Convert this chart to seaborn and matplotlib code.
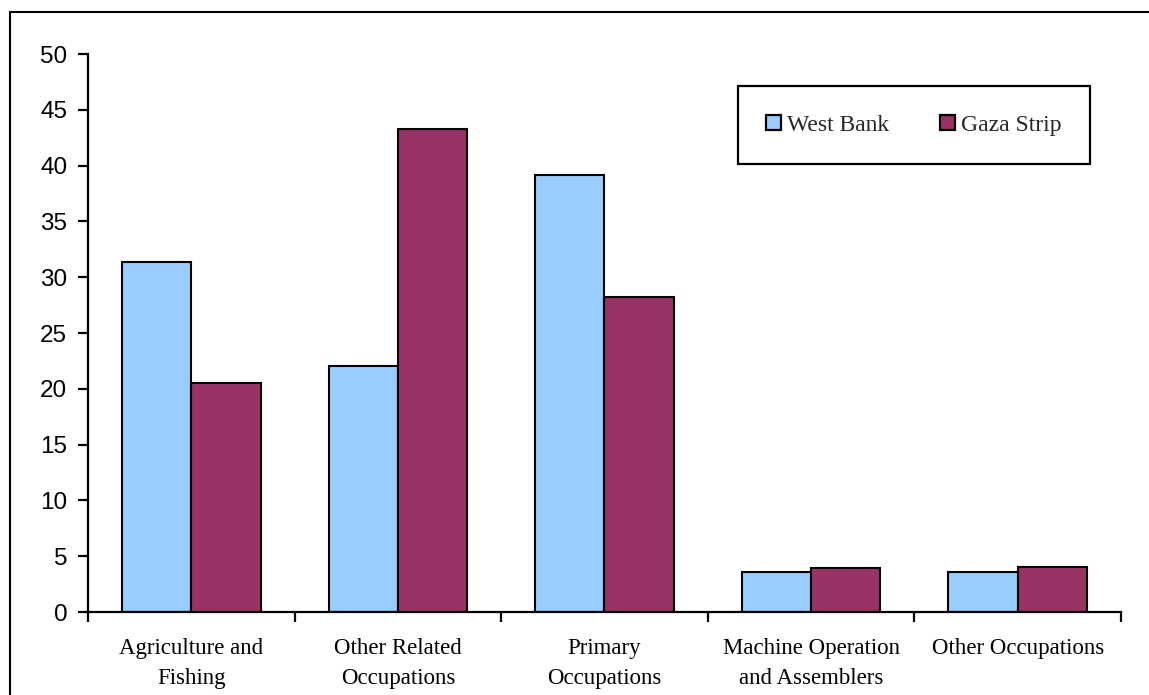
import pandas as pd
import matplotlib
matplotlib.use("Agg")
import matplotlib.pyplot as plt
import matplotlib.patches as mpatches
import seaborn as sns

categories = [
    "Agriculture and\nFishing",
    "Other Related\nOccupations",
    "Primary\nOccupations",
    "Machine Operation\nand Assemblers",
    "Other Occupations",
]
west_bank = [31.4, 22.0, 39.2, 3.6, 3.6]
gaza_strip = [20.5, 43.3, 28.2, 3.9, 4.0]
series_names = ["West Bank", "Gaza Strip"]
palette = ["#99CCFF", "#993366"]

df = pd.DataFrame({
    "category": categories * 2,
    "value": west_bank + gaza_strip,
    "region": [series_names[0]] * 5 + [series_names[1]] * 5,
})

sns.set_style("white")

fig = plt.figure(figsize=(11.49, 6.95), dpi=100)
ax = fig.add_axes([0.0766, 0.1194, 0.899, 0.8029])

sns.barplot(data=df, x="category", y="value", hue="region", order=categories,
            hue_order=series_names, palette=palette, width=0.67,
            edgecolor="black", linewidth=1.5, saturation=1, ax=ax)

ax.set_xlim(-0.5, 4.5)
ax.set_ylim(0, 50)
ax.set_yticks(range(0, 51, 5))
ax.set_xlabel("")
ax.set_ylabel("")

# category labels centred, tick marks between categories
ax.set_xticks(range(5))
ax.set_xticklabels(categories, family="Liberation Serif", fontsize=16.5,
                   linespacing=1.55, color="black")
ax.set_xticks([i - 0.5 for i in range(6)], minor=True)
ax.tick_params(axis="x", which="major", bottom=True, length=0, pad=19)
ax.tick_params(axis="x", which="minor", bottom=True, length=7, width=1.6,
               direction="out", color="black")
ax.tick_params(axis="y", left=True, length=7, width=1.6, direction="out", pad=8,
               color="black", labelcolor="black")
for lbl in ax.get_yticklabels():
    lbl.set_family("Liberation Sans")
    lbl.set_fontsize(17.5)

sns.despine(ax=ax, top=True, right=True)
ax.spines["left"].set_linewidth(1.6)
ax.spines["bottom"].set_linewidth(1.6)
ax.spines["left"].set_color("black")
ax.spines["bottom"].set_color("black")

leg = ax.legend(ncol=2, loc="center", bbox_to_anchor=(0.629, 0.81, 0.341, 0.125),
                mode="expand", borderaxespad=0, frameon=True, fancybox=False,
                handlelength=0.65, handleheight=0.65, handletextpad=0.25,
                columnspacing=2.0, borderpad=1.2,
                prop={"family": "Liberation Serif", "size": 17})
leg.get_frame().set_edgecolor("black")
leg.get_frame().set_linewidth(1.6)
leg.get_frame().set_alpha(1)
for h in leg.legend_handles:
    h.set_edgecolor("black")
    h.set_linewidth(1.6)

# outer frame of the original picture, cut at right and bottom
fig.patches.append(mpatches.Rectangle((0.0087, -0.2), 1.5, 0.9827 + 0.2,
                                      transform=fig.transFigure, fill=False,
                                      edgecolor="black", linewidth=1.5,
                                      clip_on=False))

fig.savefig("out.png", dpi=100)
